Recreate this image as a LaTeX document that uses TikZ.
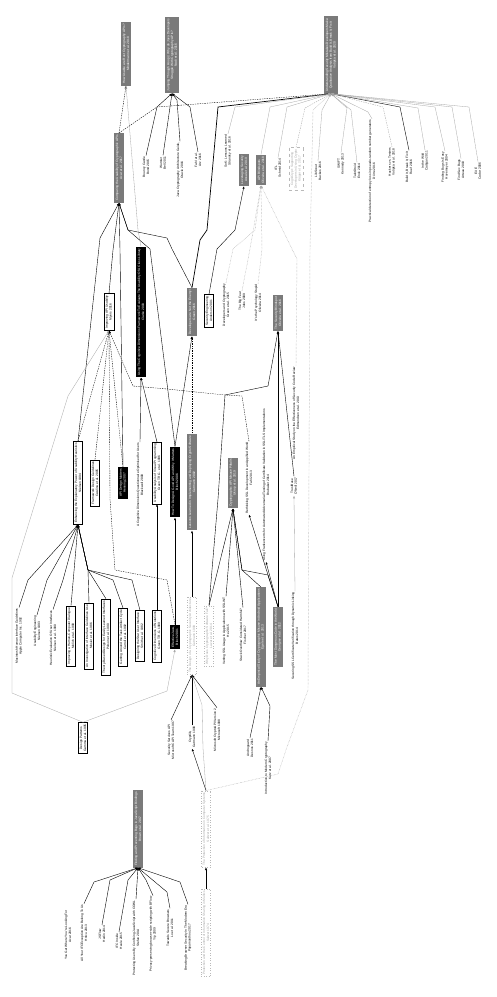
\documentclass[tikz,border=0pt]{standalone}
\usepackage{fontspec}
\setmainfont{Liberation Sans}
\usetikzlibrary{arrows.meta}
\definecolor{gboxc}{RGB}{122,122,122}
\tikzset{
 base/.style={rotate=90, align=center, font=\fontsize{3.2}{3.8}\selectfont, inner xsep=1.8pt, inner ysep=1.6pt},
 gbox/.style={base, fill=gboxc, text=white},
 bbox/.style={base, fill=black, text=white},
 wbox/.style={base, draw=black, line width=0.4pt, fill=white},
 dbox/.style={base, draw=gray!55, dotted, line width=0.5pt, text=gray!70},
 leaf/.style={base, inner ysep=0.6pt, inner xsep=0.8pt},
 tip/.style={-{Latex[length=2.6pt,width=2.2pt]}},
 ln/.style={draw=black, line width=0.4pt, tip},
 lb/.style={draw=black, line width=0.7pt, tip},
 lg/.style={draw=gray!70, line width=0.3pt, tip},
 ld/.style={draw=black, line width=0.35pt, dash pattern=on 1.4pt off 1pt, tip},
 lgd/.style={draw=gray!70, line width=0.35pt, dash pattern=on 1.4pt off 1pt, tip},
 lo/.style={draw=gray!65, line width=0.45pt, dash pattern=on 0.5pt off 0.9pt, tip}
}
\begin{document}
\begin{tikzpicture}[x=1pt,y=-1pt]
\useasboundingbox (0,0) rectangle (496,997);
\fill[white] (0,0) rectangle (496,997);

% gray boxes
\node[gbox] (mind) at (126,54) {How Usable are Rust Cryptography APIs?\\Mindermann et al. 2018};
\node[gbox] (acar) at (119,168) {Comparing the Usability of Cryptographic APIs\\Acar et al. 2017};
\node[gbox] (nadi) at (172,55) {Jumping Through Hoops: Why do Java Developers\\Struggle With Cryptography APIs?\\Nadi et al. 2016};
\node[gbox] (votipka) at (331,55) {Understanding Security Mistakes Developers Make:\\Qualitative Analysis from Build It, Break It, Fix It\\Votipka et al. 2020};
\node[gbox] (leverage) at (244,170) {Leveraging Security\\Assal et al. 2019};
\node[gbox] (apiblind) at (261,170) {API Blindspots\\Oliveira et al. 2018};
\node[gbox] (green) at (192,312) {Developers are Not the Enemy!\\Green 2016};
\node[gbox] (secblind) at (278,313) {The Security Blindspot\\Oliveira et al. 2016};
\node[gbox] (gut02) at (192,482) {Lessons Learned in Implementing and Deploying Crypto Software\\Gutmann 2002};
\node[gbox] (ukrop) at (233,483) {Cryptographic API Misuse Pitfalls\\Ukrop et al. 2019};
\node[gbox] (egele) at (261,637) {An Empirical Study of Cryptographic Misuse in Android Applications\\Egele et al. 2013};
\node[gbox] (georg) at (278,637) {The Most Dangerous Code in the World\\Georgiev et al. 2012};
\node[gbox] (brown) at (138,829) {Finding and Preventing Bugs in JavaScript Bindings\\Brown et al. 2017};

% black boxes
\node[bbox] (clarke) at (141,312) {Using The Cognitive Dimensions Framework To Evaluate The Usability Of A Class Library\\Clarke 2003};
\node[bbox] (bloch06) at (175,482) {How To Design A Good API and Why It Matters\\Bloch 2006};
\node[bbox] (henning) at (123,483) {API Design Matters\\Henning 2007};
\node[bbox] (ejava) at (175,637) {Effective Java,\\Bloch 2001};

% white boxes
\node[wbox] (myers) at (109,312) {Improving API Usability\\Myers 2016};
\node[wbox] (seceng) at (209,311) {Security Engineering\\Anderson 2001};
\node[wbox] (nielsen94) at (78,483) {Enhancing the Explanatory Power of Usability Heuristics\\Nielsen 1994};
\node[wbox] (cwalina) at (95,483) {Framework Design Guidelines\\Cwalina et al. 2005};
\node[wbox] (green96) at (157,473) {Usability Analysis of Visual Programming\\Green T.R.G. et al. 1996};
\node[wbox] (cogdim) at (157,636) {Cognitive Dimensions of Notations\\Green T.R.G. 1989};
\node[wbox] (molich) at (71,636) {Improving a Human-Computer Dialogue\\Molich et al. 1990};
\node[wbox] (invest) at (89,636) {An Investigation of Interface Guidelines Use\\Mosier et al. 1986};
\node[wbox] (polson) at (106,637) {Theory-Based Design for Easily Learned Interfaces\\Polson et al. 1990};
\node[wbox] (carroll) at (123,637) {Getting Around the Task-Artifact Cycle\\Carroll et al. 1992};
\node[wbox] (smith82) at (140,636) {Designing the Star User Interface\\Smith et al. 1982};
\node[wbox] (designp) at (83,738) {Design Patterns\\Gamma et al. 1995};

% dotted boxes
\node[dbox] (gut99) at (192,636) {The Design of a Cryptographic Security Architecture\\Gutmann 1999};
\node[dbox] (lazar) at (209,636) {Why Does Cryptographic Software Fail?\\Lazar et al. 2014};
\node[dbox] (saltzer) at (206,829) {The Protection of Information in Computer Systems\\Saltzer et al. 1975};
\node[dbox] (saltzer74) at (206,933) {Protection and the Control of Information Sharing in Multics\\Saltzer 1974};
\node[dbox, dashed] (cogni) at (296,169) {CogniCrypt: Supporting\\Developers in Using Crypto\\Kr\"uger et al. 2017};

% leaves
\node[leaf] (bern) at (146,167) {Bouncy Castle\\Bond 2015};
\node[leaf] (wurst) at (163,163) {Wurster\\Bell 2011};
\node[leaf] (search) at (180,170) {Java Cryptography Architecture Guide,\\Oracle 2016};
\node[leaf] (fahlarz) at (198,160) {Fahl et al.\\Arz 2016};
\node[leaf] (sok) at (228,151) {SoK: Lessons Learned\\Stransky et al. 2016};
\node[leaf] (ifl) at (278,168) {IFL\\Schmid 2014};
\node[leaf] (libscout) at (318,171) {LibScout\\Backes 2016};
\node[leaf] (swift) at (341,164) {SWIFT\\Kennedy 2013};
\node[leaf] (taint) at (357,171) {TaintDroid\\Enck 2014};
\node[leaf] (entropy) at (372,171) {Practical detection of entropy loss in pseudo-random number generators\\D\"orre 2016};
\node[leaf] (hackers) at (392,162) {Hackers vs. Testers\\Votipka et al. 2018};
\node[leaf] (bibifi) at (409,167) {Build It, Break It, Fix It\\Ruef 2016};
\node[leaf] (cadigan) at (425,161) {In the Wild\\Cadigan 2011};
\node[leaf] (findbugs) at (445,167) {Finding Bugs Is Easy\\Hovemeyer 2004};
\node[leaf] (arteau) at (461,170) {Find Sec Bugs\\Arteau 2018};
\node[leaf] (cadar) at (478,171) {EXE\\Cadar 2006};
\node[leaf] (where) at (226,305) {Developers and Cryptography\\Green et al. 2015};
\node[leaf] (bigfear) at (242,301) {The Big Fear\\Jobs 2009};
\node[leaf] (psych) at (258,303) {It's the Psychology Stupid\\Oliveira 2014};
\node[leaf] (edmund) at (296,413) {An Empirical Study on the Effectiveness of Security Code Review\\Edmundson et al. 2013};
\node[leaf] (rethink) at (249,478) {Rethinking SSL Development in an Appified World\\Fahl 2013};
\node[leaf] (franken) at (266,485) {Using Frankencerts for Automated Adversarial Testing of Certificate Validation in SSL/TLS Implementations\\Brubaker 2014};
\node[leaf] (trustbase) at (294,486) {TrustBase\\O'Neill 2017};
\node[leaf] (bates) at (295,636) {Securing SSL Certificate Verification through Dynamic Linking\\Bates 2014};
\node[leaf] (sslint) at (226,631) {Vetting SSL Usage in Applications with SSLINT\\He 2015};
\node[leaf] (stackof) at (243,635) {Stack Overflow Considered Harmful?\\Fischer 2017};
\node[leaf] (secapi) at (171,740) {Security Services API\\Microsoft CAPI Team 1997};
\node[leaf] (cryptlib) at (192,737) {Cryptlib,\\Gutmann 1998};
\node[leaf] (mscapi) at (217,730) {Microsoft CryptoAPI Version 2\\Microsoft 1998};
\node[leaf] (androg) at (250,748) {Androguard\\Desnos 2011};
\node[leaf] (katz) at (268,768) {Introduction to Modern Cryptography\\Katz et al. 2007};
\node[leaf] (blackwell) at (140,485) {A Cognitive Dimensions Questionnaire Optimised for Users\\Blackwell 2000};
\node[leaf] (apple) at (19,636) {Macintosh Human Interface Guidelines\\Apple Computer Inc. 1992};
\node[leaf] (nielsen93) at (37,631) {Usability Engineering\\Nielsen 1993};
\node[leaf] (nielsen90) at (53,638) {Heuristic Evaluation Of User Interfaces\\Nielsen et al. 1990};
\node[leaf] (acar16) at (68,935) {You Get Where You're Looking For\\Acar 2016};
\node[leaf] (hritcu) at (84,933) {All Your IFCException Are Belong To Us\\Hritcu 2013};
\node[leaf] (jsflow) at (102,934) {JSFlow\\Hedin 2014};
\node[leaf] (ifcinside) at (119,941) {IFC Inside\\Heule 2015};
\node[leaf] (cowl) at (136,938) {Protecting Users By Confining JavaScript with COWL\\Stefan 2014};
\node[leaf] (bflow) at (153,934) {Privacy-preserving browser-side scripting with BFlow\\Yip 2009};
\node[leaf] (leafseven) at (170,928) {Towards Secure Browsers\\Lo et al. 2011};
\node[leaf] (papam) at (188,938) {Breaking Browser Security In The Modern Era\\Papamanthou 2017};

% ---- edges: Mindermann / Acar / Votipka
\draw[ld] (acar.east) -- (mind.west);
\draw[lg] (clarke.east) -- (138,230) -- (mind.west);
\draw[ld] (acar.east) -- (157,107) -- (votipka.west);
\draw[lb] (green.east) -- (200,240) -- (207,230) -- (218,107) -- (votipka.west);
\draw[lg] (sok.east) -- (235,107) -- (votipka.west);
\draw[lg] (apiblind.east) -- (270,107) -- (votipka.west);
\draw[lg] (ifl.east) -- (287,107) -- (votipka.west);
\draw[lgd] (cogni.east) -- (305,108) -- (votipka.west);
\draw[lg] (libscout.east) -- (322,110) -- (votipka.west);
\draw[lo] (saltzer.east) -- (278,774) -- (287,747) -- (308,690) -- (310,250) -- (313,110) -- (votipka.west);
\draw[lg] (swift.east) -- (347,108) -- (votipka.west);
\draw[lg] (taint.east) -- (351,110) -- (votipka.west);
\draw[lg] (entropy.east) -- (368,112) -- (votipka.west);
\draw[lgd] (hackers.east) -- (383,107) -- (votipka.west);
\draw[ln] (bibifi.east) -- (400,107) -- (votipka.west);
\draw[lg] (cadigan.east) -- (418,108) -- (votipka.west);
\draw[lg] (findbugs.east) -- (435,107) -- (votipka.west);
\draw[lg] (arteau.east) -- (452,107) -- (votipka.west);
\draw[lg] (cadar.east) -- (469,107) -- (votipka.west);

% Nadi
\draw[ln] (bern.east) -- (157,107) -- (nadi.west);
\draw[ln] (wurst.east) -- (nadi.west);
\draw[ln] (search.east) -- (177,100) -- (nadi.west);
\draw[ln] (fahlarz.east) -- (190,107) -- (nadi.west);

% Acar
\draw[ln] (nielsen94.east) -- (100,238) -- (acar.west);
\draw[ln] (myers.east) -- (113,250) -- (acar.west);
\draw[ln] (henning.east) -- (120,250) -- (acar.west);
\draw[ln] (bloch06.east) -- (150,249) -- (128,230) -- (acar.west);
\draw[ln] (green.east) -- (172,249) -- (167,238) -- (128,230) -- (acar.west);

% Green
\draw[ln] (bloch06.east) -- (green.west);
\draw[ld] (gut02.east) -- (green.west);

% Leveraging / API Blindspots
\draw[ln] (seceng.east) -- (217,249) -- (235,230) -- (leverage.west);
\draw[lo] (where.east) -- (233,249) -- (255,230) -- (apiblind.west);
\draw[lo] (bigfear.east) -- (250,249) -- (apiblind.west);
\draw[lo] (psych.east) -- (262,249) -- (apiblind.west);
\draw[lo] (edmund.east) -- (297,259) -- (292,249) -- (apiblind.west);

% Clarke
\draw[ln] (green96.east) -- (clarke.west);
\draw[ln] (blackwell.east) -- (clarke.west);
\draw[ln] (cogdim.east) -- (green96.west);

% Myers
\draw[ld] (nielsen94.east) -- (myers.west);
\draw[ld] (cwalina.east) -- (myers.west);
\draw[ld] (henning.east) -- (myers.west);
\draw[ld] (ejava.east) -- (167,580) -- (115,570) -- (110,499) -- (myers.west);
\draw[ld] (rethink.east) -- (242,396) -- (225,395) -- (167,389) -- (133,386) -- (myers.west);
\draw[lg] (designp.east) -- (12,693) -- (12,578) -- (68,396) -- (myers.west);
\draw[lg] (designp.east) -- (167,691) -- (ejava.west);

% Nielsen 1994
\draw[ln] (apple.east) -- (28,580) -- (nielsen94.west);
\draw[ln] (nielsen93.east) -- (47,580) -- (nielsen94.west);
\draw[ln] (nielsen90.east) -- (63,580) -- (nielsen94.west);
\draw[ln] (molich.east) -- (nielsen94.west);
\draw[ln] (invest.east) -- (88,570) -- (nielsen94.west);
\draw[ln] (polson.east) -- (88,570) -- (nielsen94.west);
\draw[ln] (carroll.east) -- (113,580) -- (88,570) -- (nielsen94.west);
\draw[ln] (smith82.east) -- (132,580) -- (88,570) -- (nielsen94.west);

% Security Blindspot
\draw[ln] (georg.east) -- (secblind.west);
\draw[ln] (trustbase.east) -- (secblind.west);
\draw[ln] (lazar.east) -- (218,499) -- (225,395) -- (268,386) -- (secblind.west);

% Gutmann / Bloch
\draw[ln] (gut99.east) -- (gut02.west);
\draw[ln] (ejava.east) -- (bloch06.west);
\draw[ln] (secapi.east) -- (gut99.west);
\draw[ln] (cryptlib.east) -- (gut99.west);
\draw[lg] (saltzer.east) -- (203,748) -- (202,705) -- (gut99.west);
\draw[ln] (mscapi.east) -- (gut99.west);
\draw[ln] (saltzer.east) -- (cryptlib.west);
\draw[ln] (saltzer74.east) -- (saltzer.west);

% Ukrop
\draw[ln] (egele.east) -- (242,570) -- (ukrop.west);
\draw[ln] (georg.east) -- (268,575) -- (242,570) -- (ukrop.west);
\draw[ln] (sslint.east) -- (ukrop.west);
\draw[ln] (stackof.east) -- (ukrop.west);
\draw[ln] (lazar.east) -- (ukrop.west);

% Georgiev citers
\draw[ln] (georg.east) -- (268,575) -- (rethink.west);
\draw[ln] (georg.east) -- (franken.west);

% Egele
\draw[ln] (androg.east) -- (egele.west);
\draw[ln] (katz.east) -- (270,706) -- (egele.west);

% TrustBase
\draw[lg] (bates.east) -- (trustbase.west);

% Brown
\draw[ln] (hritcu.east) -- (94,882) -- (brown.west);
\draw[ln] (jsflow.east) -- (110,880) -- (brown.west);
\draw[ln] (ifcinside.east) -- (128,880) -- (brown.west);
\draw[ln] (cowl.east) -- (brown.west);
\draw[ln] (bflow.east) -- (146,880) -- (brown.west);
\draw[ln] (leafseven.east) -- (167,892) -- (brown.west);
\draw[ln] (papam.east) -- (180,882) -- (brown.west);
\end{tikzpicture}
\end{document}
